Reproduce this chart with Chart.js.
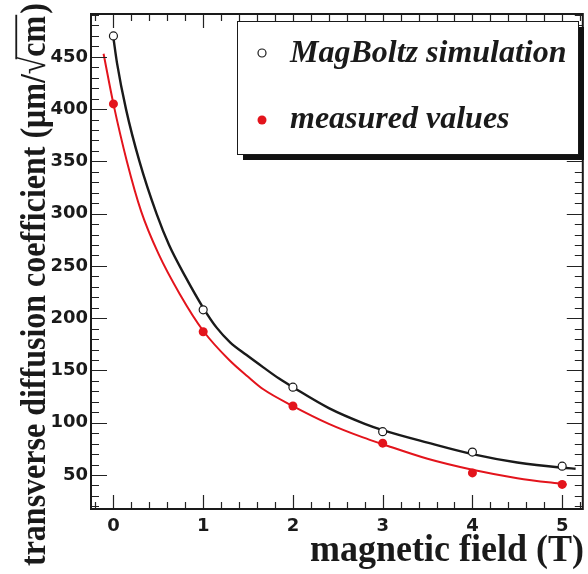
<!DOCTYPE html>
<html>
<head>
<meta charset="utf-8">
<script src="https://cdn.jsdelivr.net/npm/chart.js@4.4.1/dist/chart.umd.min.js"></script>
<style>
  html, body { margin: 0; padding: 0; background: #fff; }
  .chart-box { position: relative; width: 588px; height: 574px; }
</style>
</head>
<body>
<div class="chart-box"><canvas id="diffusionChart"></canvas></div>
<script>
// field values (T) and the two point series (um/sqrt(cm))
const FIELD_T = [0, 1, 2, 3, 4, 5];
const SIM_VALUES = [470, 208, 134, 91.5, 72, 58.5];
const MEAS_VALUES = [405, 187, 116, 80.5, 52, 41];

// fitted curves, sampled along the drawn lines
const SIM_FIT_X = [0, 0.04, 0.14, 0.29, 0.48, 0.62, 0.8, 1.0, 1.15, 1.3, 1.48, 1.67, 1.85, 2.0, 2.4, 2.8, 3.0, 3.5, 4.0, 4.5, 5.0, 5.15];
const SIM_FIT_Y = [468, 444, 400, 350, 300, 270, 240, 210, 191, 177, 165, 153, 142, 134, 114, 99, 93, 81, 70, 62, 57, 56];
const MEAS_FIT_X = [-0.11, 0, 0.15, 0.31, 0.5, 0.74, 1.0, 1.29, 1.5, 1.67, 2.0, 2.4, 2.78, 3.0, 3.5, 4.0, 4.5, 5.0, 5.05];
const MEAS_FIT_Y = [453, 405, 350, 302, 262, 223, 188, 160, 144, 132, 116, 99, 86, 79.5, 65.5, 55, 47, 41.5, 41];

const X_TICKS = [0, 1, 2, 3, 4, 5];
const Y_TICKS = [50, 100, 150, 200, 250, 300, 350, 400, 450];
const X_RANGE = [-0.25, 5.23];
const Y_RANGE = [17.5, 491];
const X_MINOR = 0.2;
const Y_MINOR = 10;

const X_TITLE = "magnetic field (T)";
const Y_TITLE_HEAD = "transverse diffusion coefficient (μm/";
const Y_TITLE_ROOT = "√";
const Y_TITLE_RAD = "cm";
const Y_TITLE_TAIL = ")";

const RED = "#e3141c";
const INK = "#1a1a1a";

function toPoints(xs, ys) {
  return xs.map((x, i) => ({ x, y: ys[i] }));
}

// ROOT-style inward ticks on all four sides plus the frame
const frameTicks = {
  id: "frameTicks",
  afterDatasetsDraw(chart) {
    const { ctx, chartArea: a, scales } = chart;
    const xs = scales.x;
    const ys = scales.y;
    ctx.save();
    ctx.strokeStyle = "#222";
    ctx.lineWidth = 1.2;
    ctx.beginPath();
    const xFrom = Math.ceil(X_RANGE[0] / X_MINOR);
    const xTo = Math.floor(X_RANGE[1] / X_MINOR);
    for (let i = xFrom; i <= xTo; i++) {
      const v = i * X_MINOR;
      const major = i % 5 === 0;
      const px = Math.round(xs.getPixelForValue(v)) + 0.5;
      const len = major ? 14 : 7;
      ctx.moveTo(px, a.bottom);
      ctx.lineTo(px, a.bottom - len);
      ctx.moveTo(px, a.top);
      ctx.lineTo(px, a.top + len);
    }
    const yFrom = Math.ceil(Y_RANGE[0] / Y_MINOR);
    const yTo = Math.floor(Y_RANGE[1] / Y_MINOR);
    for (let i = yFrom; i <= yTo; i++) {
      const v = i * Y_MINOR;
      const major = i % 5 === 0;
      const py = Math.round(ys.getPixelForValue(v)) + 0.5;
      const len = major ? 16 : 8;
      ctx.moveTo(a.left, py);
      ctx.lineTo(a.left + len, py);
      ctx.moveTo(a.right, py);
      ctx.lineTo(a.right - len, py);
    }
    ctx.stroke();
    ctx.strokeStyle = INK;
    ctx.lineWidth = 2;
    ctx.strokeRect(a.left, a.top, a.right - a.left, a.bottom - a.top);
    ctx.restore();
  },
};

// axis titles and the shadowed legend box
const decorations = {
  id: "decorations",
  afterDraw(chart) {
    const { ctx } = chart;
    ctx.save();
    ctx.fillStyle = INK;
    ctx.strokeStyle = INK;

    ctx.font = "bold 36px 'Liberation Serif'";
    ctx.textAlign = "right";
    ctx.textBaseline = "alphabetic";
    ctx.save();
    ctx.translate(584, 561);
    ctx.scale(1, 1.08);
    ctx.fillText(X_TITLE, 0, 0);
    ctx.restore();

    ctx.save();
    ctx.translate(45, 566);
    ctx.rotate(-Math.PI / 2);
    ctx.scale(1, 1.15);
    ctx.font = "bold 32px 'Liberation Serif'";
    ctx.textAlign = "left";
    let pos = 0;
    ctx.fillText(Y_TITLE_HEAD, pos, 0);
    pos += ctx.measureText(Y_TITLE_HEAD).width;
    const rootM = ctx.measureText(Y_TITLE_ROOT);
    ctx.fillText(Y_TITLE_ROOT, pos, 0);
    const barStart = pos + rootM.width * 0.85;
    pos += rootM.width;
    ctx.fillText(Y_TITLE_RAD, pos, 0);
    pos += ctx.measureText(Y_TITLE_RAD).width;
    const barY = -rootM.actualBoundingBoxAscent + 1;
    ctx.lineWidth = 1.6;
    ctx.beginPath();
    ctx.moveTo(barStart, barY);
    ctx.lineTo(pos + 1, barY);
    ctx.stroke();
    ctx.fillText(Y_TITLE_TAIL, pos + 2, 0);
    ctx.restore();

    // legend
    const box = { left: 237, top: 21, right: 578, bottom: 154 };
    ctx.fillStyle = "#111";
    ctx.fillRect(box.left + 6, box.top + 6, box.right - box.left, box.bottom - box.top);
    ctx.fillStyle = "#fff";
    ctx.fillRect(box.left, box.top, box.right - box.left, box.bottom - box.top);
    ctx.lineWidth = 1;
    ctx.strokeStyle = INK;
    ctx.strokeRect(box.left + 0.5, box.top + 0.5, box.right - box.left, box.bottom - box.top);

    const sim = chart.data.datasets[0];
    const meas = chart.data.datasets[1];
    ctx.beginPath();
    ctx.arc(262, 53, 4, 0, Math.PI * 2);
    ctx.fillStyle = sim.pointBackgroundColor;
    ctx.fill();
    ctx.lineWidth = sim.pointBorderWidth;
    ctx.strokeStyle = sim.pointBorderColor;
    ctx.stroke();
    ctx.beginPath();
    ctx.arc(262, 120, 4.5, 0, Math.PI * 2);
    ctx.fillStyle = meas.pointBackgroundColor;
    ctx.fill();

    ctx.fillStyle = INK;
    ctx.font = "italic bold 32px 'Liberation Serif'";
    ctx.textAlign = "left";
    ctx.fillText(sim.label, 290, 62);
    ctx.fillText(meas.label, 290, 128);
    ctx.restore();
  },
};

const tickFont = { family: "'DejaVu Sans'", weight: "bold", size: 18 };

new Chart(document.getElementById("diffusionChart"), {
  type: "scatter",
  data: {
    datasets: [
      {
        label: "MagBoltz simulation",
        data: toPoints(FIELD_T, SIM_VALUES),
        pointRadius: 4,
        pointBackgroundColor: "#fff",
        pointBorderColor: INK,
        pointBorderWidth: 1.2,
        order: 0,
      },
      {
        label: "measured values",
        data: toPoints(FIELD_T, MEAS_VALUES),
        pointRadius: 4.5,
        pointBackgroundColor: RED,
        pointBorderColor: RED,
        pointBorderWidth: 0,
        order: 0,
      },
      {
        label: "simulation fit",
        data: toPoints(SIM_FIT_X, SIM_FIT_Y),
        showLine: true,
        pointRadius: 0,
        borderColor: INK,
        borderWidth: 2.4,
        cubicInterpolationMode: "monotone",
        order: 1,
      },
      {
        label: "measurement fit",
        data: toPoints(MEAS_FIT_X, MEAS_FIT_Y),
        showLine: true,
        pointRadius: 0,
        borderColor: RED,
        borderWidth: 2,
        cubicInterpolationMode: "monotone",
        order: 1,
      },
    ],
  },
  options: {
    responsive: true,
    maintainAspectRatio: false,
    animation: false,
    events: [],
    layout: { padding: { top: 14, right: 3, left: 0, bottom: 0 } },
    plugins: {
      legend: { display: false },
      tooltip: { enabled: false },
    },
    scales: {
      x: {
        type: "linear",
        min: X_RANGE[0],
        max: X_RANGE[1],
        afterBuildTicks: (s) => { s.ticks = X_TICKS.map((v) => ({ value: v })); },
        afterFit: (s) => { s.height = 65; },
        grid: { display: false, drawTicks: false },
        border: { display: false },
        ticks: { font: tickFont, color: INK, padding: 7, maxRotation: 0, autoSkip: false },
      },
      y: {
        type: "linear",
        min: Y_RANGE[0],
        max: Y_RANGE[1],
        afterBuildTicks: (s) => { s.ticks = Y_TICKS.map((v) => ({ value: v })); },
        afterFit: (s) => { s.width = 91; },
        grid: { display: false, drawTicks: false },
        border: { display: false },
        ticks: { font: tickFont, color: INK, padding: 3, autoSkip: false },
      },
    },
  },
  plugins: [frameTicks, decorations],
});
</script>
</body>
</html>
